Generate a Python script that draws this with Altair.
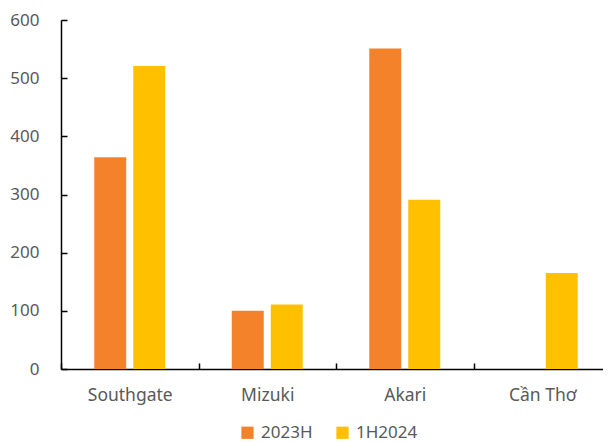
import altair as alt
import pandas as pd

categories = ["Southgate", "Mizuki", "Akari", "Cần Thơ"]
series = ["2023H", "1H2024"]
values_2023h = [364, 100, 551, None]
values_1h2024 = [521, 111, 291, 165]
y_ticks = [0, 100, 200, 300, 400, 500, 600]
colors = ["#F3822A", "#FFC000"]

rows = []
for c, a, b in zip(categories, values_2023h, values_1h2024):
    rows.append({"cat": c, "series": series[0], "value": a})
    rows.append({"cat": c, "series": series[1], "value": b})
df = pd.DataFrame(rows)

FONT = "Noto Sans"
LABEL = "#595959"
W, H = 550, 349

x_scale = alt.Scale(paddingInner=0, paddingOuter=0)
xo_scale = alt.Scale(paddingInner=0.18, paddingOuter=0.853)
y_scale = alt.Scale(domain=[0, 600], nice=False)

bars = alt.Chart(df).mark_bar().encode(
    x=alt.X("cat:N", sort=categories, scale=x_scale,
            axis=alt.Axis(title=None, labelAngle=0, tickBand="extent", ticks=False, tickSize=0,
                          domainColor="#000000", domainWidth=1.5, labelColor=LABEL,
                          labelFont=FONT, labelFontSize=17.5, labelPadding=17)),
    xOffset=alt.XOffset("series:N", sort=series, scale=xo_scale),
    y=alt.Y("value:Q", scale=y_scale,
            axis=alt.Axis(title=None, values=y_ticks, grid=False, ticks=False, tickSize=0,
                          domainColor="#000000", domainWidth=1.5, labelColor=LABEL,
                          labelFont=FONT, labelFontSize=17, labelPadding=22)),
    color=alt.Color("series:N", sort=series, scale=alt.Scale(domain=series, range=colors),
                    legend=alt.Legend(title=None, orient="none", legendX=178, legendY=404,
                                      direction="horizontal", symbolType="square", symbolSize=150,
                                      symbolStrokeWidth=0, labelFont=FONT, labelFontSize=17,
                                      labelColor=LABEL, columnPadding=21, labelOffset=5)),
)

ticks_layer = alt.Chart(df).mark_bar(opacity=0).encode(
    x=alt.X("cat:N", sort=categories, scale=x_scale,
            axis=alt.Axis(title=None, orient="top", offset=-H, labels=False, domain=False,
                          ticks=True, tickSize=6, tickWidth=1.5, tickColor="#000000",
                          tickBand="extent")),
    xOffset=alt.XOffset("series:N", sort=series, scale=xo_scale),
    y=alt.Y("value:Q", scale=y_scale,
            axis=alt.Axis(title=None, orient="right", offset=-W, values=y_ticks, labels=False,
                          domain=False, grid=False, ticks=True, tickSize=6, tickWidth=1.5,
                          tickColor="#000000")),
)

chart = alt.layer(bars, ticks_layer).resolve_axis(x="independent", y="independent").properties(
    width=W, height=H,
    autosize=alt.AutoSizeParams(type="none"),
    padding={"left": 53, "top": 12, "right": -8, "bottom": 74},
).configure_view(strokeWidth=0)

chart.save("out.html", embed_options={"renderer": "svg", "actions": False})
